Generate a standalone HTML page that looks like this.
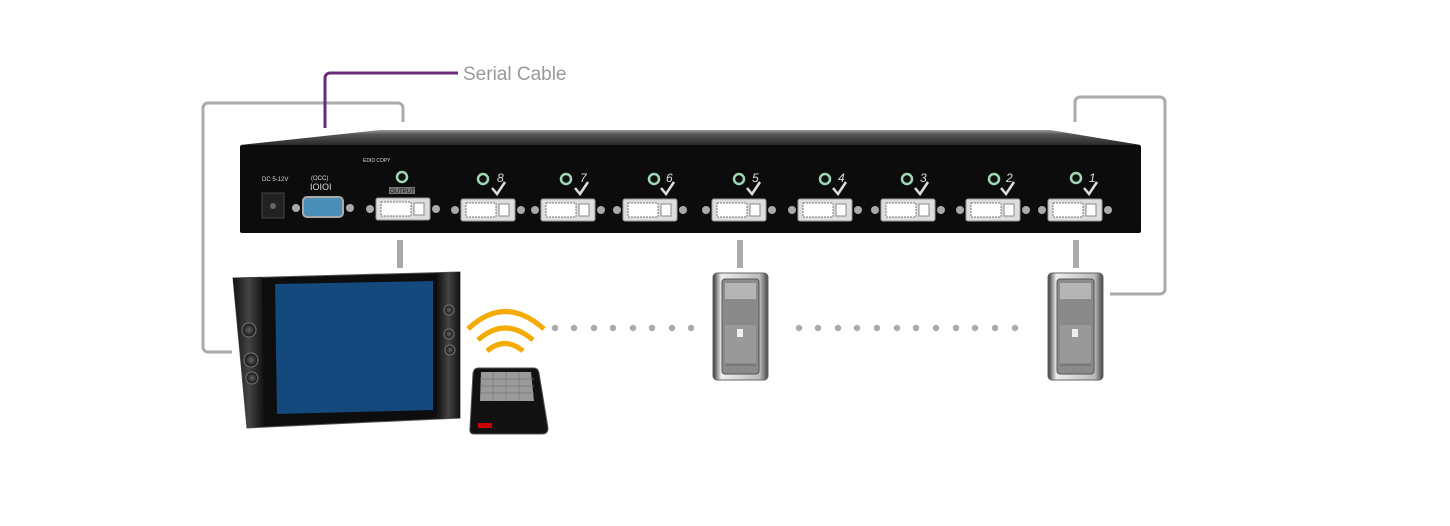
<!DOCTYPE html>
<html><head><meta charset="utf-8"><style>
html,body{margin:0;padding:0;background:#fff;}
svg{display:block;}
</style></head><body>
<svg width="1450" height="526" viewBox="0 0 1450 526" xmlns="http://www.w3.org/2000/svg" font-family="Liberation Sans, sans-serif">
<defs>
<linearGradient id="pc" x1="0" x2="1"><stop offset="0" stop-color="#333"/><stop offset="0.15" stop-color="#eee"/><stop offset="0.85" stop-color="#bbb"/><stop offset="1" stop-color="#444"/></linearGradient>
<linearGradient id="top" x1="0" y1="0" x2="0" y2="1"><stop offset="0" stop-color="#9a9a9a"/><stop offset="0.3" stop-color="#555"/><stop offset="1" stop-color="#2a2a2a"/></linearGradient>
<linearGradient id="side" x1="0" x2="1"><stop offset="0" stop-color="#111"/><stop offset="0.5" stop-color="#444"/><stop offset="1" stop-color="#111"/></linearGradient>
<radialGradient id="spk"><stop offset="0" stop-color="#666"/><stop offset="1" stop-color="#111"/></radialGradient>
<g id="dvi"><rect x="-27" y="-11" width="54" height="22" rx="2" fill="#ddd" stroke="#999"/><rect x="-22" y="-7" width="30" height="14" fill="#fff" stroke="#777" stroke-dasharray="2 1"/><rect x="11" y="-6" width="10" height="12" fill="#fff" stroke="#888"/><circle cx="-33" cy="0" r="4" fill="#aaa"/><circle cx="33" cy="0" r="4" fill="#aaa"/></g>
<g id="led"><circle r="5" fill="#111" stroke="#9fd6b4" stroke-width="2.5"/></g>
<path id="chk" d="M0 0 L5 6 L13 -6" fill="none" stroke="#ddd" stroke-width="2.5"/>
<g id="pc1"><rect x="0" y="0" width="55" height="107" rx="4" fill="url(#pc)" stroke="#666"/><rect x="9" y="6" width="37" height="95" rx="3" fill="#8a8a8a" stroke="#555"/><rect x="12" y="10" width="31" height="16" fill="#b5b5b5"/><rect x="12" y="52" width="31" height="38" fill="#999"/><rect x="24" y="56" width="6" height="8" fill="#eee"/><line x1="12" y1="92" x2="43" y2="92" stroke="#666"/></g>
</defs>
<!-- cables -->
<path d="M403 122 V108 a5 5 0 0 0 -5 -5 H208 a5 5 0 0 0 -5 5 V347 a5 5 0 0 0 5 5 H232" fill="none" stroke="#aaa" stroke-width="3"/>
<path d="M325 128 V78 a5 5 0 0 1 5 -5 H458" fill="none" stroke="#6a2a7a" stroke-width="3"/>
<text x="463" y="80" font-size="19" fill="#999">Serial Cable</text>
<path d="M1075 122 V102 a5 5 0 0 1 5 -5 H1160 a5 5 0 0 1 5 5 V289 a5 5 0 0 1 -5 5 H1110" fill="none" stroke="#aaa" stroke-width="3"/>
<!-- device -->
<path d="M240 145 L380 130 H1050 L1141 145 Z" fill="url(#top)"/>
<rect x="240" y="145" width="901" height="88" rx="2" fill="#0c0c0c"/>
<text x="262" y="181" font-size="6" fill="#ddd">DC 5-12V</text>
<rect x="262" y="193" width="22" height="25" fill="#222" stroke="#444"/><circle cx="273" cy="206" r="3" fill="#666"/>
<text x="311" y="180" font-size="6" fill="#ddd">(OCC)</text>
<text x="310" y="190" font-size="9" fill="#ddd">IOIOI</text>
<rect x="303" y="197" width="40" height="20" rx="4" fill="#4a8fb8" stroke="#aaa" stroke-width="2"/>
<circle cx="296" cy="208" r="4" fill="#aaa"/><circle cx="350" cy="208" r="4" fill="#aaa"/>
<text x="363" y="162" font-size="5" fill="#ddd">EDID COPY</text>
<rect x="389" y="187" width="26" height="7" fill="#777"/><text x="390" y="193" font-size="6" fill="#111">OUTPUT</text>
<use href="#dvi" x="403" y="209"/><use href="#led" x="402" y="177"/>
<g fill="#ddd" font-size="12" font-style="italic">
<use href="#dvi" x="488" y="210"/><use href="#led" x="483" y="179"/><text x="497" y="182">8</text><use href="#chk" x="492" y="188"/>
<use href="#dvi" x="568" y="210"/><use href="#led" x="566" y="179"/><text x="580" y="182">7</text><use href="#chk" x="575" y="188"/>
<use href="#dvi" x="650" y="210"/><use href="#led" x="654" y="179"/><text x="666" y="182">6</text><use href="#chk" x="661" y="188"/>
<use href="#dvi" x="739" y="210"/><use href="#led" x="739" y="179"/><text x="752" y="182">5</text><use href="#chk" x="747" y="188"/>
<use href="#dvi" x="825" y="210"/><use href="#led" x="825" y="179"/><text x="838" y="182">4</text><use href="#chk" x="833" y="188"/>
<use href="#dvi" x="908" y="210"/><use href="#led" x="907" y="179"/><text x="920" y="182">3</text><use href="#chk" x="915" y="188"/>
<use href="#dvi" x="993" y="210"/><use href="#led" x="994" y="179"/><text x="1006" y="182">2</text><use href="#chk" x="1001" y="188"/>
<use href="#dvi" x="1075" y="210"/><use href="#led" x="1076" y="178"/><text x="1089" y="182">1</text><use href="#chk" x="1084" y="188"/>
</g>
<!-- vertical links -->
<g stroke="#aaa" stroke-width="6"><line x1="400" y1="240" x2="400" y2="268"/><line x1="740" y1="240" x2="740" y2="268"/><line x1="1076" y1="240" x2="1076" y2="268"/></g>
<!-- monitor -->
<path d="M233 278 L460 272 V418 L247 428 Z" fill="#0d0d0d" stroke="#555"/>
<path d="M233 278 L262 277 L264 426 L247 428 Z" fill="url(#side)"/>
<path d="M437 273 L460 272 V418 L437 419 Z" fill="url(#side)"/>
<path d="M275 284 L433 281 V410 L277 414 Z" fill="#13497c"/>
<g fill="url(#spk)" stroke="#777"><circle cx="249" cy="330" r="7"/><circle cx="251" cy="360" r="7"/><circle cx="252" cy="378" r="6"/><circle cx="449" cy="310" r="5"/><circle cx="449" cy="334" r="5"/><circle cx="450" cy="350" r="5"/></g>
<!-- waves -->
<g fill="none" stroke="#f5aa00" stroke-width="5">
<path d="M468 329 Q505 294 544 329"/><path d="M478 340 Q505 316 533 340"/><path d="M487 351 Q505 336 523 351"/>
</g>
<!-- remote -->
<path d="M478 368 H534 Q538 368 539 373 L548 428 Q548 434 542 434 H474 Q469 434 470 428 L473 373 Q474 368 478 368 Z" fill="#111" stroke="#555"/>
<path d="M481 372 H531 L534 401 H480 Z" fill="#9a9a9a"/>
<g stroke="#777" stroke-width="0.7"><line x1="493" y1="372" x2="493" y2="401"/><line x1="506" y1="372" x2="506" y2="401"/><line x1="519" y1="372" x2="519" y2="401"/><line x1="480" y1="379" x2="534" y2="379"/><line x1="480" y1="386" x2="534" y2="386"/><line x1="480" y1="393" x2="534" y2="393"/></g>
<rect x="478" y="423" width="14" height="5" fill="#c00"/>
<!-- dots -->
<g fill="#aaa"><circle cx="555" cy="328" r="3.2"/><circle cx="574" cy="328" r="3.2"/><circle cx="594" cy="328" r="3.2"/><circle cx="613" cy="328" r="3.2"/><circle cx="633" cy="328" r="3.2"/><circle cx="652" cy="328" r="3.2"/><circle cx="672" cy="328" r="3.2"/><circle cx="691" cy="328" r="3.2"/>
<circle cx="799" cy="328" r="3.2"/><circle cx="818" cy="328" r="3.2"/><circle cx="838" cy="328" r="3.2"/><circle cx="857" cy="328" r="3.2"/><circle cx="877" cy="328" r="3.2"/><circle cx="897" cy="328" r="3.2"/><circle cx="916" cy="328" r="3.2"/><circle cx="936" cy="328" r="3.2"/><circle cx="956" cy="328" r="3.2"/><circle cx="975" cy="328" r="3.2"/><circle cx="995" cy="328" r="3.2"/><circle cx="1015" cy="328" r="3.2"/></g>
<use href="#pc1" x="713" y="273"/><use href="#pc1" x="1048" y="273"/>
</svg>
</body></html>
